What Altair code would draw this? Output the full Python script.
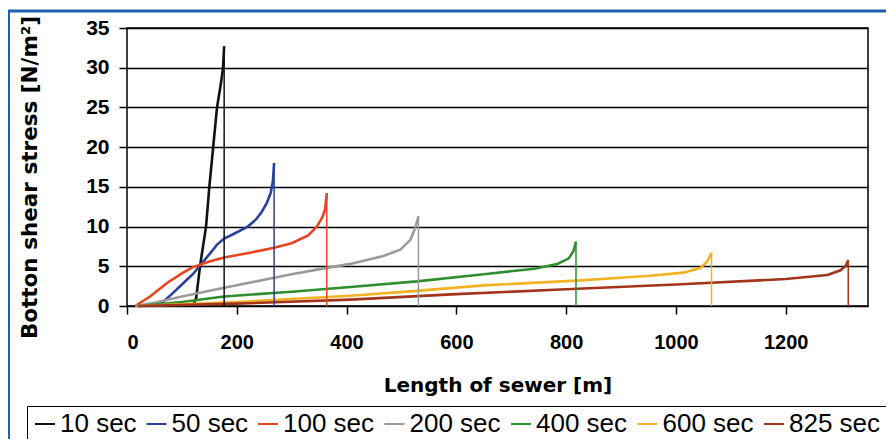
import altair as alt
import pandas as pd

series = ["10 sec", "50 sec", "100 sec", "200 sec", "400 sec", "600 sec", "825 sec"]
colors = ["#111111", "#2b3f9e", "#e8431e", "#9a9a9a", "#2f8f2f", "#f4b223", "#a3341c"]

x10 = [120, 126, 133, 144, 150, 157, 164, 171, 175, 177]
y10 = [0, 1, 5, 10, 15, 20, 25, 28, 30, 32.7]

x50 = [57, 80, 100, 120, 133, 151, 165, 177, 195, 206, 220, 235, 245, 255, 262, 266, 268]
y50 = [0, 1.4, 2.7, 4.0, 5.1, 6.6, 7.8, 8.5, 9.1, 9.5, 10.0, 10.9, 11.8, 13.0, 14.3, 15.8, 18.0]

x100 = [15, 42, 73, 100, 120, 133, 150, 177, 224, 266, 300, 330, 346, 356, 361, 364]
y100 = [0, 1.2, 2.9, 4.1, 4.9, 5.2, 5.6, 6.1, 6.7, 7.3, 7.9, 8.9, 10.0, 11.2, 12.2, 14.2]

x200 = [15, 50, 100, 177, 250, 300, 364, 407, 467, 498, 516, 525, 531]
y200 = [0, 0.4, 1.2, 2.3, 3.3, 4.0, 4.8, 5.3, 6.3, 7.1, 8.3, 9.8, 11.3]

x400 = [20, 100, 177, 300, 407, 528, 650, 742, 784, 805, 814, 818]
y400 = [0, 0.5, 1.2, 1.8, 2.4, 3.1, 4.0, 4.7, 5.3, 6.0, 7.0, 8.1]

x600 = [20, 200, 407, 528, 650, 820, 953, 1014, 1045, 1057, 1065]
y600 = [0, 0.5, 1.3, 1.9, 2.6, 3.2, 3.8, 4.2, 4.8, 5.6, 6.7]

x825 = [20, 200, 407, 600, 800, 1000, 1200, 1276, 1300, 1310, 1314]
y825 = [0, 0.3, 0.8, 1.5, 2.1, 2.7, 3.4, 3.9, 4.5, 5.1, 5.8]

x_ticks = [0, 200, 400, 600, 800, 1000, 1200]
y_ticks = [0, 5, 10, 15, 20, 25, 30, 35]

all_x = [x10, x50, x100, x200, x400, x600, x825]
all_y = [y10, y50, y100, y200, y400, y600, y825]

rows = []
fronts = []
for s, xs, ys in zip(series, all_x, all_y):
    for i, (xv, yv) in enumerate(zip(xs, ys)):
        rows.append({"series": s, "x": xv, "y": yv, "idx": i})
    fronts.append({"series": s, "x": xs[-1], "y": 0, "peak": ys[-1]})
df = pd.DataFrame(rows)
fdf = pd.DataFrame(fronts)

color_scale = alt.Scale(domain=series, range=colors)
x_scale = alt.Scale(domain=[0, 1350], nice=False)
y_scale = alt.Scale(domain=[0, 35], nice=False)

x_axis = alt.Axis(values=x_ticks, format="d", grid=False, domain=False, tickSize=8, tickWidth=1.5,
                  tickColor="black", labelFont="Liberation Sans", labelFontWeight="bold",
                  labelFontSize=20, labelColor="black", labelPadding=18,
                  title="Length of sewer [m]", titleFont="DejaVu Sans",
                  titleFontWeight="bold", titleFontSize=20, titleColor="black",
                  titleX=370.5, titleY=79, titleBaseline="middle")
y_axis = alt.Axis(values=y_ticks, format="d", grid=True, gridColor="black", gridWidth=1.5,
                  domain=False, tickSize=8, tickWidth=1.5, tickColor="black",
                  labelFont="Liberation Sans", labelFontWeight="bold", labelFontSize=21,
                  labelColor="black", labelPadding=10, labelOverlap=False,
                  title="Botton shear stress [N/m²]", titleFont="DejaVu Sans",
                  titleFontWeight="bold", titleFontSize=21.5, titleColor="black",
                  titleX=-97, titleY=149, titleBaseline="middle", titleAngle=-90)

frame = alt.Chart(pd.DataFrame({"a": [0]})).mark_rect(
    fill=None, stroke="#1f5fb0", strokeWidth=3
).encode(
    x=alt.value(-118.5), x2=alt.value(800), y=alt.value(-17), y2=alt.value(460)
)

lines = alt.Chart(df).mark_line(strokeWidth=2.6).encode(
    x=alt.X("x:Q", scale=x_scale, axis=x_axis),
    y=alt.Y("y:Q", scale=y_scale, axis=y_axis),
    color=alt.Color("series:N", scale=color_scale, sort=series,
                    legend=alt.Legend(orient="none", legendX=-100, legendY=378,
                                      direction="horizontal", columns=7, title=None,
                                      symbolType="stroke", symbolSize=400, symbolStrokeWidth=2,
                                      labelFont="Liberation Sans", labelFontSize=26,
                                      labelColor="black", strokeColor="black", fillColor="white",
                                      padding=5, columnPadding=5.5, labelOffset=2)),
    detail="series:N",
    order="idx:Q",
)

rules = alt.Chart(fdf).mark_rule(strokeWidth=1.5).encode(
    x=alt.X("x:Q", scale=x_scale, axis=x_axis),
    y=alt.Y("y:Q", scale=y_scale, axis=y_axis),
    y2="peak:Q",
    color=alt.Color("series:N", scale=color_scale, legend=None),
)

chart = alt.layer(frame, lines, rules).properties(
    width=741, height=278,
    autosize=alt.AutoSizeParams(type="none"),
    padding={"left": 119, "top": 20, "right": 18, "bottom": 133},
    background="white",
).configure_view(stroke="black", strokeWidth=1.5)

chart.save("out.html", embed_options={"renderer": "svg", "actions": False})
